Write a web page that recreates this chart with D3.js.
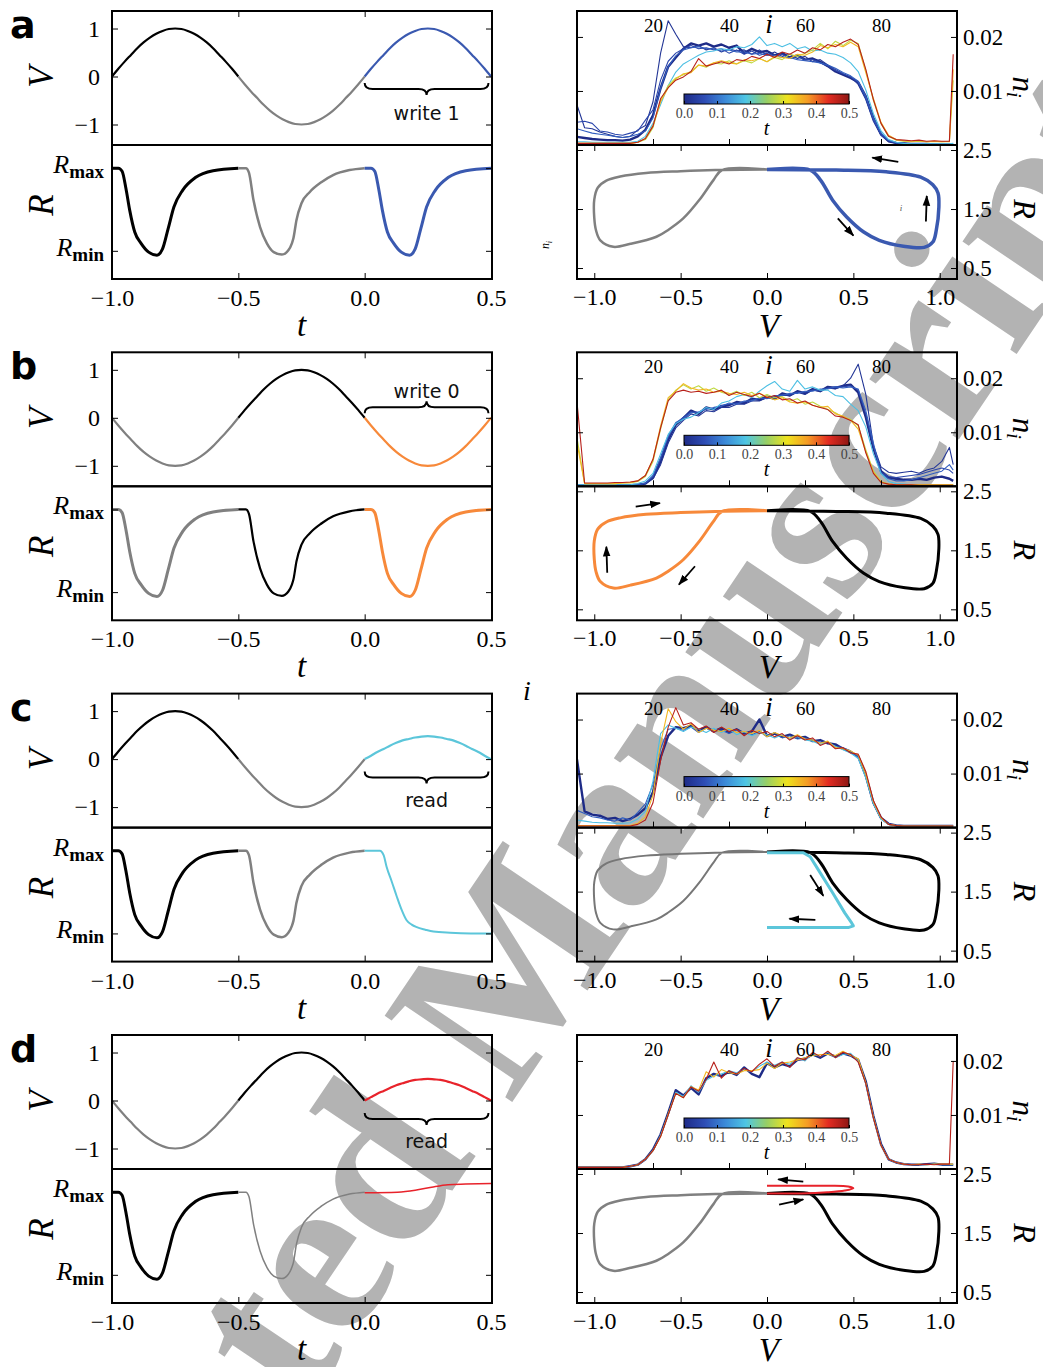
<!DOCTYPE html>
<html>
<head>
<meta charset="utf-8">
<script src="https://cdn.jsdelivr.net/npm/d3@7"></script>
<style>
  body { margin: 0; background: #fff; }
</style>
</head>
<body>
<div id="fig"></div>
<script>
// ---------- drive voltage, one half period (t offset from segment start) ----------
const halfT = [0, 0.025, 0.05, 0.075, 0.1, 0.125, 0.15, 0.175, 0.2, 0.225, 0.25, 0.275, 0.3, 0.325, 0.35, 0.375, 0.4, 0.425, 0.45, 0.475, 0.5];
const vPulsePos = [0, 0.16, 0.31, 0.45, 0.59, 0.71, 0.81, 0.89, 0.95, 0.99, 1.0, 0.99, 0.95, 0.89, 0.81, 0.71, 0.59, 0.45, 0.31, 0.16, 0];
const vPulseNeg = [0, -0.16, -0.31, -0.45, -0.59, -0.71, -0.81, -0.89, -0.95, -0.99, -1.0, -0.99, -0.95, -0.89, -0.81, -0.71, -0.59, -0.45, -0.31, -0.16, 0];
const vReadC = [0, 0.07, 0.15, 0.21, 0.28, 0.34, 0.39, 0.42, 0.45, 0.47, 0.48, 0.47, 0.45, 0.42, 0.39, 0.34, 0.28, 0.21, 0.15, 0.07, 0];
const vReadD = [0, 0.07, 0.14, 0.2, 0.26, 0.32, 0.36, 0.4, 0.43, 0.44, 0.45, 0.44, 0.43, 0.4, 0.36, 0.32, 0.26, 0.2, 0.14, 0.07, 0];

// ---------- resistance response R(t) ----------
const dipFirstT = [0, 0.025, 0.04, 0.055, 0.07, 0.09, 0.115, 0.145, 0.178, 0.2, 0.222, 0.245, 0.28, 0.33, 0.4, 0.5];
const dipFirstR = [2.17, 2.17, 2.12, 1.85, 1.5, 1.15, 0.97, 0.83, 0.78, 0.88, 1.2, 1.55, 1.82, 2.02, 2.13, 2.17];
const dipSecondT = [0, 0.03, 0.042, 0.06, 0.086, 0.113, 0.14, 0.172, 0.198, 0.212, 0.218, 0.23, 0.25, 0.283, 0.33, 0.375, 0.44, 0.5];
const dipSecondR = [2.17, 2.17, 2.1, 1.66, 1.23, 0.97, 0.83, 0.79, 0.86, 0.97, 1.05, 1.34, 1.61, 1.79, 1.95, 2.06, 2.14, 2.17];
const setReadT = [0, 0.06, 0.075, 0.087, 0.107, 0.127, 0.146, 0.166, 0.186, 0.206, 0.24, 0.272, 0.338, 0.42, 0.5];
const setReadR = [2.17, 2.17, 2.1, 1.91, 1.68, 1.44, 1.23, 1.06, 0.99, 0.95, 0.91, 0.88, 0.86, 0.85, 0.85];
const holdReadT = [0, 0.13, 0.2, 0.265, 0.33, 0.4, 0.5];
const holdReadR = [2.16, 2.17, 2.2, 2.25, 2.29, 2.3, 2.31];
const rTickVals = [0.85, 2.17];

// ---------- R-V loops ----------
const loopPosV = [0, 0.25, 0.31, 0.38, 0.46, 0.56, 0.65, 0.79, 0.91, 0.96, 0.98, 0.995, 0.99, 0.96, 0.89, 0.69, 0.4, 0];
const loopPosR = [2.17, 2.16, 1.99, 1.65, 1.37, 1.11, 0.97, 0.87, 0.85, 0.94, 1.14, 1.53, 1.77, 1.91, 2.04, 2.13, 2.16, 2.17];
const loopNegV = [0, -0.26, -0.31, -0.39, -0.485, -0.57, -0.64, -0.79, -0.89, -0.965, -0.99, -1.0, -1.0, -0.98, -0.93, -0.85, -0.7, -0.5, -0.3, 0];
const loopNegR = [2.17, 2.16, 1.99, 1.66, 1.34, 1.15, 1.03, 0.91, 0.86, 0.97, 1.14, 1.35, 1.66, 1.86, 1.98, 2.05, 2.11, 2.14, 2.16, 2.17];
const loopReadCV = [0, 0.21, 0.25, 0.31, 0.38, 0.45, 0.49, 0.5, 0.47, 0.31, 0];
const loopReadCR = [2.16, 2.16, 2.09, 1.81, 1.48, 1.14, 0.97, 0.92, 0.89, 0.89, 0.89];
const loopReadDV = [0, 0.2, 0.35, 0.45, 0.5, 0.47, 0.35, 0.15, 0];
const loopReadDR = [2.17, 2.17, 2.19, 2.22, 2.26, 2.29, 2.3, 2.3, 2.3];

// arrows: [V0, R0, V1, R1]
const arrowsA = [[0.76, 2.30, 0.61, 2.37], [0.92, 1.29, 0.925, 1.72], [0.41, 1.34, 0.50, 1.05]];
const arrowsB = [[-0.76, 2.24, -0.62, 2.30], [-0.925, 1.12, -0.93, 1.56], [-0.417, 1.23, -0.51, 0.92]];
const arrowsC = [[0.25, 1.78, 0.326, 1.43], [0.28, 1.02, 0.13, 1.04]];
const arrowsD = [[0.21, 2.37, 0.065, 2.41], [0.07, 1.98, 0.21, 2.07]];

// ---------- occupation n_i (units of 1e-3) ----------
const iBins = [0,2,4,6,8,10,12,14,16,18,20,22,24,26,28,30,32,34,36,38,40,42,44,46,48,50,52,54,56,58,60,62,64,66,68,70,72,74,76,78,80,82,84,86,88,90,92,94,96,98,99];

const nA_t00 = [1.5,1.3,1.1,1.0,0.9,0.9,0.8,1.0,1.6,2.8, 5.5,10.5,14.5,16.2,17.8,18.8,18.4,18.8,18.2,18.6, 18.0,18.4,17.0,17.8,17.2,17.4,16.6,17.0,16.2,16.6, 15.8,16.0,15.4,14.6,13.6,13.0,12.4,11.6,9.0,5.0, 2.0,0.7,0.4,0.3,0.2,0.2,0.2,0.1,0.1,0.1, 0.1];
const nA_t02 = [7.4,3.2,3.0,2.4,2.0,1.6,1.4,1.6,2.8,3.6, 8.0,17.0,23.0,20.5,18.2,18.0,18.4,17.6,18.0,17.2, 17.8,17.4,17.6,16.8,17.6,16.6,17.2,16.4,16.8,16.0, 16.4,15.4,15.8,14.8,14.0,13.2,12.6,11.2,8.4,4.4, 1.8,0.7,0.3,0.2,0.2,0.2,0.1,0.1,0.1,0.1, 0.1];
const nA_t05 = [4.2,4.4,4.0,2.6,2.4,2.0,1.8,2.2,2.6,4.6, 6.5,12.0,15.5,17.0,17.8,18.4,17.8,18.0,17.6,17.8, 17.0,17.6,16.8,17.4,16.6,17.0,16.4,16.8,16.0,16.4, 15.8,15.8,15.2,14.6,13.8,13.2,12.6,11.6,8.6,4.6, 1.9,0.8,0.4,0.3,0.2,0.2,0.2,0.1,0.1,0.1, 0.1];
const nA_t08 = [3.0,2.6,2.2,2.0,1.8,1.6,1.4,1.6,2.0,2.6, 5.0,10.5,14.5,16.5,17.6,18.0,18.2,17.8,17.8,17.4, 17.6,17.2,17.2,16.8,17.0,16.6,16.6,16.2,16.2,15.8, 15.6,15.4,15.2,14.8,14.2,13.4,12.8,11.8,9.0,5.0, 2.2,0.9,0.4,0.3,0.2,0.2,0.2,0.2,0.1,0.1, 0.1];
const nA_t18 = [0.6,0.6,0.5,0.5,0.5,0.5,0.5,0.5,0.7,1.6, 4.0,7.5,11.0,13.5,15.0,15.8,16.6,17.2,17.4,17.8, 17.6,18.2,18.0,18.6,20.0,18.4,18.8,18.2,18.8,17.8, 18.2,17.4,17.6,17.0,16.8,16.2,15.2,13.6,10.2,5.8, 2.6,1.0,0.5,0.3,0.2,0.2,0.2,0.2,0.2,0.2, 0.3];
const nA_t28 = [0.3,0.3,0.3,0.3,0.3,0.3,0.3,0.3,0.5,1.0, 3.2,8.2,11.0,12.4,13.0,13.6,14.8,14.4,15.2,15.0, 15.6,15.0,15.6,15.2,16.0,15.4,16.2,15.8,16.8,16.4, 17.0,17.6,18.8,17.8,19.2,18.4,19.4,18.8,13.8,8.2, 4.0,1.6,0.9,0.7,0.6,0.7,0.6,0.6,0.6,0.6, 12.0];
const nA_t35 = [0.3,0.3,0.3,0.3,0.3,0.3,0.3,0.3,0.5,1.2, 3.6,8.0,10.6,12.2,13.2,13.4,14.8,14.6,15.2,15.6, 15.2,15.0,15.8,15.6,16.0,15.4,16.4,16.2,16.0,16.8, 16.6,17.2,18.4,18.0,18.6,18.2,19.0,18.2,13.4,8.6, 4.2,1.8,1.0,0.8,0.7,0.8,0.6,0.7,0.6,0.7, 14.0];
const nA_t47 = [0.3,0.3,0.3,0.3,0.3,0.3,0.3,0.3,0.5,1.2, 3.5,8.6,10.6,12.0,12.6,13.6,16.0,14.6,15.0,15.4, 15.0,15.8,15.6,16.4,16.0,16.8,16.2,17.2,16.8,17.6, 17.0,18.0,17.6,18.6,18.2,19.0,19.6,18.6,14.0,8.4, 4.0,1.6,1.0,0.9,0.8,0.9,0.7,0.8,0.7,0.7, 16.8];

const nB_t00 = [0.2,0.2,0.2,0.2,0.2,0.2,0.2,0.2,0.3,0.5, 1.6,4.6,8.6,11.4,12.6,14.0,13.4,14.6,14.2,14.8, 15.0,15.6,15.4,16.2,16.0,16.6,16.2,17.2,16.8,17.6, 17.2,18.0,17.6,18.4,18.2,18.6,18.8,17.4,12.8,7.0, 2.8,1.6,1.4,1.2,1.2,1.4,1.2,1.6,1.8,1.4, 1.0];
const nB_t02 = [0.2,0.2,0.2,0.2,0.2,0.2,0.2,0.2,0.3,0.5, 1.4,4.0,8.0,10.8,12.2,13.4,13.0,14.0,13.8,14.6, 14.6,15.2,15.2,15.8,15.8,16.4,16.2,16.8,16.8,17.4, 17.0,17.8,17.6,18.2,18.0,18.6,20.0,22.6,17.0,7.6, 3.6,2.6,2.4,2.6,2.8,2.4,3.0,3.4,4.6,7.2, 4.0];
const nB_t05 = [0.2,0.2,0.2,0.2,0.2,0.2,0.2,0.2,0.3,0.6, 1.8,5.0,9.0,11.6,12.8,13.8,13.6,14.4,14.4,15.0, 15.2,15.4,15.6,16.0,16.2,16.4,16.6,17.0,17.0,17.4, 17.4,17.8,17.8,18.2,18.4,18.4,18.6,17.8,13.4,7.4, 2.6,1.8,1.6,1.8,2.0,2.2,2.6,3.0,3.4,3.0, 2.4];
const nB_t08 = [0.2,0.2,0.2,0.2,0.2,0.2,0.2,0.2,0.3,0.6, 2.0,5.4,9.4,11.8,12.6,13.6,13.8,14.2,14.6,14.8, 15.4,15.2,15.8,15.8,16.4,16.2,16.8,16.8,17.2,17.2, 17.6,17.6,18.0,18.0,18.4,18.2,18.4,18.0,14.0,8.0, 2.4,1.4,1.0,1.0,1.2,1.6,2.0,2.4,2.8,4.0, 3.0];
const nB_t18 = [0.3,0.3,0.3,0.3,0.3,0.3,0.3,0.3,0.5,1.0, 2.4,6.0,9.6,11.6,12.4,12.8,13.6,14.6,14.2,15.4, 15.8,16.6,17.0,16.4,17.6,18.6,19.4,18.0,17.6,19.6, 18.0,18.4,17.8,17.8,16.8,16.6,15.2,14.0,11.0,6.0, 2.4,0.9,0.5,0.4,0.3,0.3,0.3,0.3,0.3,0.3, 0.3];
const nB_t28 = [9.0,0.5,0.5,0.5,0.5,0.5,0.6,0.6,0.9,1.8, 4.6,10.6,16.0,17.8,18.8,18.0,18.6,17.6,18.2,17.4, 17.0,17.6,16.8,17.4,16.4,17.0,16.4,16.6,15.8,16.2, 15.2,15.6,14.8,14.2,13.6,12.8,12.4,11.2,6.8,2.8, 0.9,0.4,0.3,0.3,0.3,0.3,0.3,0.3,0.3,0.3, 0.3];
const nB_t35 = [8.0,0.5,0.5,0.5,0.5,0.5,0.6,0.7,1.0,2.0, 5.0,11.2,16.4,17.6,19.0,18.2,17.8,18.0,17.4,17.6, 17.2,17.0,17.4,16.8,17.2,16.6,16.0,16.4,15.6,15.4, 15.6,15.0,14.6,14.8,13.4,13.0,12.2,10.6,6.4,2.6, 0.8,0.4,0.3,0.3,0.3,0.3,0.3,0.3,0.3,0.3, 0.3];
const nB_t47 = [15.6,0.6,0.6,0.6,0.6,0.7,0.7,0.8,1.0,2.0, 5.0,10.8,15.8,17.4,17.8,17.4,17.6,17.2,17.4,17.8, 16.8,17.4,17.0,16.6,17.2,16.4,16.8,16.0,16.2,15.4, 15.8,15.0,14.6,14.2,13.0,12.8,12.2,11.4,6.2,2.4, 0.7,0.4,0.3,0.3,0.3,0.2,0.2,0.2,0.2,0.2, 0.2];

const nC_t00 = [12.6,3.0,2.4,2.2,1.6,1.8,1.2,1.6,2.4,3.6, 6.6,13.0,17.0,18.6,18.4,18.8,18.0,18.6,17.8,18.4, 17.6,18.2,17.4,17.8,20.0,17.0,17.4,16.8,17.2,16.6, 16.8,16.0,16.2,15.6,15.4,14.6,14.0,13.2,9.6,4.6, 1.8,0.7,0.4,0.3,0.3,0.3,0.3,0.3,0.3,0.3, 0.3];
const nC_t08 = [3.2,2.6,2.0,1.8,1.4,1.2,1.8,1.4,2.8,4.4, 8.0,14.6,18.2,18.4,18.0,18.6,17.6,18.4,17.8,18.0, 17.4,18.0,17.6,17.2,17.8,16.8,17.6,16.6,17.0,16.4, 16.6,16.2,15.8,15.8,15.0,14.8,14.2,13.0,9.4,4.4, 1.6,0.6,0.4,0.3,0.3,0.3,0.3,0.3,0.3,0.3, 0.3];
const nC_t18 = [1.4,1.2,1.0,0.9,0.9,0.8,0.8,0.9,1.6,3.0, 8.6,17.4,19.0,18.4,17.8,18.6,18.2,17.6,18.4,17.6, 18.2,17.2,17.8,17.0,17.6,17.2,16.6,17.2,16.4,16.8, 16.2,16.0,15.4,15.8,15.0,14.4,13.8,12.8,9.2,4.4, 1.6,0.6,0.4,0.3,0.3,0.3,0.3,0.3,0.3,0.3, 0.3];
const nC_t35 = [0.4,0.4,0.4,0.4,0.4,0.4,0.4,0.4,0.8,2.0, 6.0,15.6,22.0,19.6,18.2,19.2,17.6,18.4,18.0,17.8, 18.4,17.6,17.8,17.4,18.0,16.8,17.6,17.0,16.6,17.2, 16.4,16.2,15.6,16.0,14.8,14.6,14.2,13.4,9.8,4.8, 1.8,0.6,0.4,0.3,0.3,0.3,0.3,0.3,0.3,0.3, 0.3];
const nC_t47 = [0.3,0.3,0.3,0.3,0.3,0.3,0.3,0.3,0.6,1.4, 4.6,12.4,18.6,22.2,19.0,19.4,18.2,18.8,17.6,18.6, 17.8,18.2,17.0,18.0,17.4,17.8,16.8,17.4,16.2,17.0, 16.2,16.6,15.2,15.8,14.6,14.8,13.8,13.6,10.4,5.0, 2.0,0.6,0.4,0.3,0.3,0.3,0.3,0.3,0.3,0.3, 0.3];

const nD_t00 = [0.3,0.3,0.3,0.3,0.3,0.3,0.3,0.5,0.8,1.8, 3.6,6.4,10.4,14.6,13.6,15.0,13.8,16.8,17.6,17.2, 18.0,17.4,18.8,17.6,17.0,19.6,18.8,19.4,19.0,20.2, 20.4,21.2,20.6,21.4,20.8,21.4,21.0,20.2,16.2,9.8, 4.6,1.8,1.2,0.9,0.8,0.8,0.9,1.0,0.8,0.8, 0.8];
const nD_t18 = [0.3,0.3,0.3,0.3,0.3,0.3,0.3,0.5,0.8,1.8, 3.4,6.2,10.0,14.2,13.4,15.4,14.2,16.4,17.2,17.6, 18.2,17.8,18.4,18.0,19.0,19.8,19.2,19.8,19.4,20.6, 20.0,21.4,20.8,21.6,20.6,21.2,21.4,20.0,15.8,9.6, 4.4,1.8,1.2,0.9,0.8,0.8,0.8,0.9,0.8,0.8, 0.8];
const nD_t35 = [0.3,0.3,0.3,0.3,0.3,0.3,0.3,0.5,0.8,1.8, 3.4,6.0,10.2,14.0,13.2,15.2,14.6,18.0,17.0,18.4, 17.8,17.6,18.2,18.2,18.4,19.6,18.6,19.6,19.8,20.2, 20.6,21.0,21.2,21.2,21.0,21.8,21.0,20.4,16.0,9.6, 4.4,1.8,1.2,0.9,0.8,0.9,0.8,0.9,0.9,0.9, 0.9];
const nD_t47 = [0.3,0.3,0.3,0.3,0.3,0.3,0.3,0.5,0.8,1.8, 3.4,6.0,10.0,14.0,13.2,15.2,14.4,16.6,19.8,16.8, 18.2,17.6,18.6,18.0,19.4,20.4,19.0,19.8,18.8,20.6, 20.2,21.6,20.8,21.8,20.6,21.6,21.2,19.8,15.8,9.4, 4.4,1.8,1.2,0.9,0.8,0.8,0.9,0.8,0.9,0.9, 20.0];

const histA = [[0.00, nA_t00], [0.02, nA_t02], [0.05, nA_t05], [0.08, nA_t08], [0.18, nA_t18], [0.28, nA_t28], [0.35, nA_t35], [0.47, nA_t47]];
const histB = [[0.00, nB_t00], [0.02, nB_t02], [0.05, nB_t05], [0.08, nB_t08], [0.18, nB_t18], [0.28, nB_t28], [0.35, nB_t35], [0.47, nB_t47]];
const histC = [[0.00, nC_t00], [0.08, nC_t08], [0.18, nC_t18], [0.35, nC_t35], [0.47, nC_t47]];
const histD = [[0.00, nD_t00], [0.18, nD_t18], [0.35, nD_t35], [0.47, nD_t47]];

// axis tick values
const tTicks = [-1, -0.5, 0, 0.5];
const vTicks = [-1, 0, 1];
const iTicks = [20, 40, 60, 80];
const nTicks = [0.01, 0.02];
const vxTicks = [-1, -0.5, 0, 0.5, 1];
const rvTicks = [0.5, 1.5, 2.5];
const cbTicks = [0, 0.1, 0.2, 0.3, 0.4, 0.5];
const jetStops = ["#1e2b87", "#2e4db5", "#3c8ad8", "#4ec6e4", "#96cf66", "#eee31e", "#f59b25", "#e22c22", "#8f1714"];

// ---------- layout ----------
const serif = "'Liberation Serif', 'DejaVu Serif', serif";
const sans = "'DejaVu Sans', 'Liberation Sans', sans-serif";
const rowTop = [11, 352.3, 693.6, 1035];
const cBlue = "#3a59b0", cGray = "#808080", cOrange = "#f7893a", cCyan = "#5cc6da", cRed = "#e8232b";

const rows = [
  { letter: "a",
    v: [[-1, vPulsePos, "#000"], [-0.5, vPulseNeg, cGray], [0, vPulsePos, cBlue]],
    r: [[-1, dipFirstT, dipFirstR, "#000", 3], [-0.5, dipSecondT, dipSecondR, cGray, 2.5], [0, dipFirstT, dipFirstR, cBlue, 3]],
    loops: [[loopNegV, loopNegR, cGray, 2.5], [loopPosV, loopPosR, cBlue, 3.5]],
    arrows: arrowsA, hist: histA, label: "write 1", braceY: 78, textY: 109, dir: 1 },
  { letter: "b",
    v: [[-1, vPulseNeg, cGray], [-0.5, vPulsePos, "#000"], [0, vPulseNeg, cOrange]],
    r: [[-1, dipFirstT, dipFirstR, cGray, 3], [-0.5, dipSecondT, dipSecondR, "#000", 2.2], [0, dipFirstT, dipFirstR, cOrange, 3]],
    loops: [[loopPosV, loopPosR, "#000", 3], [loopNegV, loopNegR, cOrange, 3]],
    arrows: arrowsB, hist: histB, label: "write 0", braceY: 55, textY: 46, dir: -1 },
  { letter: "c",
    v: [[-1, vPulsePos, "#000"], [-0.5, vPulseNeg, cGray], [0, vReadC, cCyan]],
    r: [[-1, dipFirstT, dipFirstR, "#000", 3], [-0.5, dipSecondT, dipSecondR, cGray, 2.5], [0, setReadT, setReadR, cCyan, 2]],
    loops: [[loopNegV, loopNegR, "#777", 2], [loopPosV, loopPosR, "#000", 3], [loopReadCV, loopReadCR, cCyan, 3]],
    arrows: arrowsC, hist: histC, label: "read", braceY: 84, textY: 113, dir: 1 },
  { letter: "d",
    v: [[-1, vPulseNeg, cGray], [-0.5, vPulsePos, "#000"], [0, vReadD, cRed]],
    r: [[-1, dipFirstT, dipFirstR, "#000", 3], [-0.5, dipSecondT, dipSecondR, cGray, 1.5], [0, holdReadT, holdReadR, cRed, 1.5]],
    loops: [[loopNegV, loopNegR, cGray, 2.5], [loopPosV, loopPosR, "#000", 3], [loopReadDV, loopReadDR, cRed, 2]],
    arrows: arrowsD, hist: histD, label: "read", braceY: 84, textY: 113, dir: 1 }
];

const svg = d3.select("#fig").append("svg").attr("width", 1043).attr("height", 1367);
const defs = svg.append("defs");

// watermark sits behind everything
svg.append("text")
  .attr("transform", "translate(-41,1922) rotate(-56)")
  .style("font-family", serif)
  .style("font-weight", "bold")
  .style("font-size", "235px")
  .style("fill", "#b3b3b3")
  .text("Accepted Manuscript");

defs.append("marker")
  .attr("id", "arr").attr("viewBox", "0 0 10 10").attr("refX", 9).attr("refY", 5)
  .attr("markerWidth", 6).attr("markerHeight", 6).attr("orient", "auto")
  .append("path").attr("d", "M0,1.5 L10,5 L0,8.5 z").attr("fill", "#000");

const jet = d3.piecewise(d3.interpolateRgb, jetStops);
const grad = defs.append("linearGradient").attr("id", "jetgrad");
jetStops.forEach((c, j) => grad.append("stop").attr("offset", j / (jetStops.length - 1)).attr("stop-color", c));

const tX = d3.scaleLinear().domain([-1, 0.5]).range([112, 491]);
const iX = d3.scaleLinear().domain([0, 100]).range([577, 957]);
const vX = d3.scaleLinear().domain([-1.1, 1.1]).range([577, 957]);
const cbX = d3.scaleLinear().domain([0, 0.5]).range([684, 849]);

function clip(id, x, y, w, h) {
  defs.append("clipPath").attr("id", id).append("rect")
    .attr("x", x).attr("y", y).attr("width", w).attr("height", h);
  return `url(#${id})`;
}

function axisAt(axis, x, y, fs) {
  let g = svg.append("g").attr("transform", `translate(${x},${y})`).call(axis);
  g.select(".domain").remove();
  g.selectAll(".tick line").attr("stroke", "#000").attr("stroke-width", 1);
  g.selectAll(".tick text").attr("fill", "#000")
    .style("font-family", serif).style("font-size", fs + "px");
  return g;
}

function bracePath(x1, x2, y, d) {
  let xm = (x1 + x2) / 2, h = 6 * d;
  return `M${x1},${y - h} Q${x1},${y} ${x1 + 8},${y} L${xm - 8},${y} Q${xm},${y} ${xm},${y + h}` +
         ` Q${xm},${y} ${xm + 8},${y} L${x2 - 8},${y} Q${x2},${y} ${x2},${y - h}`;
}

const blank = () => "";

rows.forEach((row, k) => {
  let y0 = rowTop[k], yM = y0 + 134, yB = y0 + 268;
  let vY = d3.scaleLinear().domain([-1.427, 1.365]).range([yM, y0]);
  let rY = d3.scaleLinear().domain([0.40, 2.54]).range([yB, yM]);
  let nY = d3.scaleLinear().domain([0, 0.0248]).range([yM, y0]);
  let rvY = d3.scaleLinear().domain([0.314, 2.585]).range([yB, yM]);

  let clipV = clip("cv" + k, 112, y0, 380, 134);
  let clipR = clip("cr" + k, 112, yM, 380, 134);
  let clipN = clip("cn" + k, 577, y0, 380, 134);
  let clipL = clip("cl" + k, 577, yM, 380, 134);

  // ---- V(t)
  let gV = svg.append("g").attr("clip-path", clipV);
  row.v.forEach(([s, vals, col]) => {
    gV.append("path")
      .attr("d", d3.line().curve(d3.curveMonotoneX)(halfT.map((dt, j) => [tX(s + dt), vY(vals[j])])))
      .attr("fill", "none").attr("stroke", col).attr("stroke-width", 2.2);
  });

  // ---- R(t)
  let gR = svg.append("g").attr("clip-path", clipR);
  row.r.forEach(([s, ts, rs, col, w]) => {
    gR.append("path")
      .attr("d", d3.line().curve(d3.curveMonotoneX)(ts.map((dt, j) => [tX(s + dt), rY(rs[j])])))
      .attr("fill", "none").attr("stroke", col).attr("stroke-width", w);
  });

  // ---- brace and label
  svg.append("path").attr("d", bracePath(tX(0), tX(0.49), y0 + row.braceY, row.dir))
    .attr("fill", "none").attr("stroke", "#000").attr("stroke-width", 2);
  svg.append("text").attr("x", tX(0.245)).attr("y", y0 + row.textY)
    .attr("text-anchor", "middle").style("font-family", sans).style("font-size", "19px")
    .attr("fill", "#111").text(row.label);

  // ---- histogram lines
  let gN = svg.append("g").attr("clip-path", clipN);
  row.hist.forEach(([t, vals]) => {
    gN.append("path")
      .attr("d", d3.line()(vals.map((n, j) => [iX(iBins[j]), nY(n * 1e-3)])))
      .attr("fill", "none").attr("stroke", jet(t / 0.5))
      .attr("stroke-width", t === 0 ? 2.4 : 1.1).attr("stroke-linejoin", "round");
  });

  // ---- colorbar
  svg.append("rect").attr("x", cbX(0)).attr("y", y0 + 83).attr("width", cbX(0.5) - cbX(0)).attr("height", 10)
    .attr("fill", "url(#jetgrad)").attr("stroke", "#000").attr("stroke-width", 1);
  let cbg = axisAt(d3.axisBottom(cbX).tickValues(cbTicks).tickSize(-3).tickPadding(4).tickFormat(d3.format(".1f")), 0, y0 + 93, 14);
  cbg.selectAll(".tick text").attr("fill", "#444");
  svg.append("text").attr("x", cbX(0.25)).attr("y", y0 + 124).attr("text-anchor", "middle")
    .style("font-family", serif).style("font-style", "italic").style("font-size", "20px").text("t");

  // ---- R-V loops
  let gL = svg.append("g").attr("clip-path", clipL);
  row.loops.forEach(([vs, rs, col, w]) => {
    let curve = (vs === loopReadCV) ? d3.curveLinear : d3.curveCatmullRom;
    gL.append("path")
      .attr("d", d3.line().curve(curve)(vs.map((v, m) => [vX(v), rvY(rs[m])])))
      .attr("fill", "none").attr("stroke", col).attr("stroke-width", w).attr("stroke-linejoin", "round");
  });
  row.arrows.forEach(([v0, r0, v1, r1]) => {
    svg.append("line").attr("x1", vX(v0)).attr("y1", rvY(r0)).attr("x2", vX(v1)).attr("y2", rvY(r1))
      .attr("stroke", "#000").attr("stroke-width", 1.8).attr("marker-end", "url(#arr)");
  });

  // ---- axes, left column
  axisAt(d3.axisTop(tX).tickValues(tTicks).tickSize(-6).tickFormat(blank), 0, y0, 20);
  axisAt(d3.axisLeft(vY).tickValues(vTicks).tickSize(-6).tickPadding(12).tickFormat(d3.format("d")), 112, 0, 24);
  axisAt(d3.axisRight(vY).tickValues(vTicks).tickSize(-6).tickFormat(blank), 492, 0, 20);
  axisAt(d3.axisLeft(rY).tickValues(rTickVals).tickSize(-6).tickFormat(blank), 112, 0, 20);
  axisAt(d3.axisRight(rY).tickValues(rTickVals).tickSize(-6).tickFormat(blank), 492, 0, 20);
  axisAt(d3.axisBottom(tX).tickValues(tTicks).tickSize(-6).tickPadding(10).tickFormat(d3.format(".1f")), 0, yB, 24);

  [["max", rTickVals[1]], ["min", rTickVals[0]]].forEach(([sub, val]) => {
    let tx = svg.append("text").attr("x", 104).attr("y", rY(val) + 5).attr("text-anchor", "end")
      .style("font-family", serif);
    tx.append("tspan").style("font-style", "italic").style("font-size", "26px").text("R");
    tx.append("tspan").attr("dy", 5).style("font-weight", "bold").style("font-size", "19px").text(sub);
  });

  // ---- axes, right column
  axisAt(d3.axisBottom(iX).tickValues(iTicks).tickSize(-6).tickFormat(blank), 0, yM, 19);
  axisAt(d3.axisTop(iX).tickValues(iTicks).tickSize(0).tickPadding(-21).tickFormat(d3.format("d")), 0, y0, 19);
  axisAt(d3.axisLeft(nY).tickValues(nTicks).tickSize(-6).tickFormat(blank), 577, 0, 20);
  axisAt(d3.axisRight(nY).tickValues(nTicks).tickSize(-6).tickPadding(6).tickFormat(d3.format(".2f")), 957, 0, 23);
  axisAt(d3.axisTop(vX).tickValues(vxTicks).tickSize(-6).tickFormat(blank), 0, yM, 20);
  axisAt(d3.axisBottom(vX).tickValues(vxTicks).tickSize(-6).tickPadding(9).tickFormat(d3.format(".1f")), 0, yB, 24);
  axisAt(d3.axisLeft(rvY).tickValues(rvTicks).tickSize(-6).tickFormat(blank), 577, 0, 20);
  axisAt(d3.axisRight(rvY).tickValues(rvTicks).tickSize(-6).tickPadding(6).tickFormat(d3.format(".1f")), 957, 0, 23);

  // ---- frames
  [[112, y0], [112, yM], [577, y0], [577, yM]].forEach(([x, y]) => {
    svg.append("rect").attr("x", x).attr("y", y).attr("width", 380).attr("height", 134)
      .attr("fill", "none").attr("stroke", "#000").attr("stroke-width", 2);
  });

  // ---- axis labels
  let lab = (x, y, rot, txt, fs) => svg.append("text")
    .attr("transform", `translate(${x},${y}) rotate(${rot})`).attr("text-anchor", "middle")
    .style("font-family", serif).style("font-style", "italic").style("font-size", fs + "px").text(txt);
  lab(53, y0 + 66, -90, "V", 35);
  lab(53, y0 + 194, -90, "R", 35);
  lab(tX(-0.25), yB + 57, 0, "t", 33);
  lab(vX(0.01), yB + 58, 0, "V", 33);
  lab(769, y0 + 22, 0, "i", 27);
  lab(1014, y0 + 198, 90, "R", 32);
  let nl = svg.append("text").attr("transform", `translate(1013,${y0 + 76}) rotate(90)`)
    .attr("text-anchor", "middle").style("font-family", serif).style("font-style", "italic");
  nl.append("tspan").style("font-size", "31px").text("n");
  nl.append("tspan").attr("dy", 6).style("font-size", "20px").text("i");

  svg.append("text").attr("x", 10).attr("y", y0 + 27)
    .style("font-family", sans).style("font-weight", "bold").style("font-size", "38px").text(row.letter);
});

// stray labels left on the original figure
svg.append("text").attr("x", 527).attr("y", 700).attr("text-anchor", "middle")
  .style("font-family", serif).style("font-style", "italic").style("font-size", "28px").text("i");
svg.append("text").attr("x", 901).attr("y", 211).attr("text-anchor", "middle").attr("fill", "#555")
  .style("font-family", serif).style("font-style", "italic").style("font-size", "9px").text("i");
let stray = svg.append("text").attr("transform", "translate(549,245) rotate(-90)").attr("text-anchor", "middle")
  .style("font-family", serif).style("font-style", "italic");
stray.append("tspan").style("font-size", "12px").text("n");
stray.append("tspan").attr("dy", 3).style("font-size", "8px").text("i");
</script>
</body>
</html>
